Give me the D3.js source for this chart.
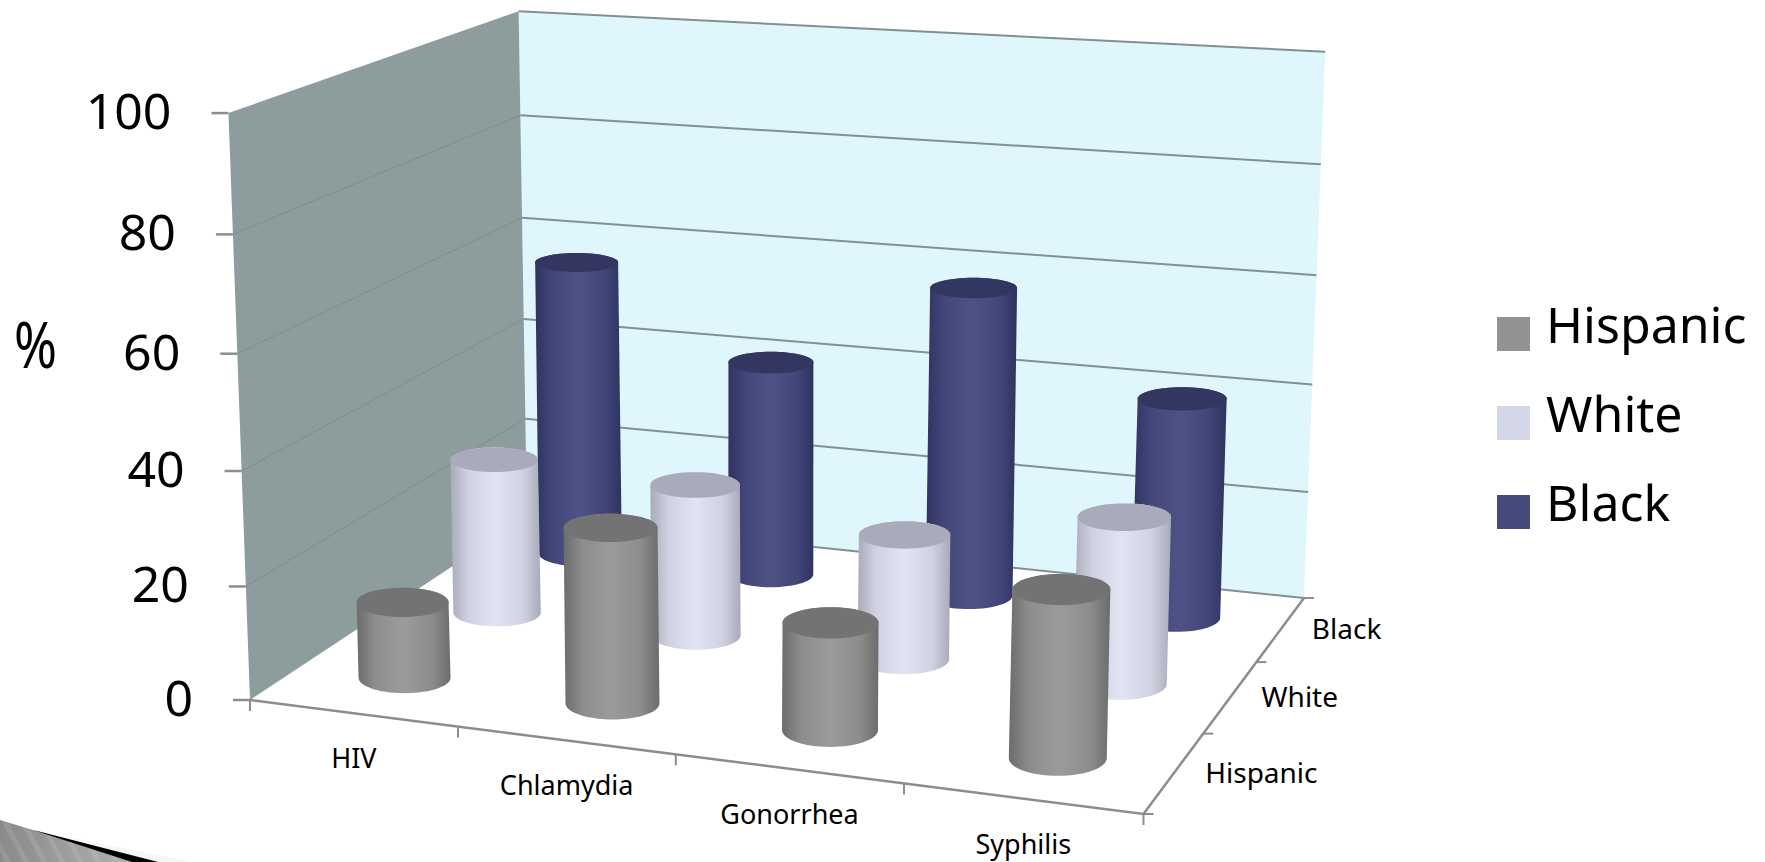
<!DOCTYPE html>
<html>
<head>
<meta charset="utf-8">
<script src="https://cdn.jsdelivr.net/npm/d3@7"></script>
<style>
  html, body { margin: 0; padding: 0; background: #fff; overflow: hidden; }
  text { font-family: "Noto Sans", sans-serif; fill: #000; }
</style>
</head>
<body>
<div id="chart"></div>
<script>
// chart values
const categories = ["HIV", "Chlamydia", "Gonorrhea", "Syphilis"];
const series = ["Hispanic", "White", "Black"];
const hispanic = [13.5, 30.6, 18.4, 28.2];
const white = [28.6, 27.6, 22.4, 29.4];
const black = [56.6, 40.6, 57.5, 40.4];
const valueTicks = [0, 20, 40, 60, 80, 100];

const width = 1765, height = 862;
const svg = d3.select("#chart").append("svg")
    .attr("width", width)
    .attr("height", height);
const defs = svg.append("defs");

// floor corners on screen, and where the upright edges converge
const floorFL = [250, 700], floorFR = [1143.5, 814], floorBR = [1304, 598], floorBL = [527, 517];
const vanish = [761, 14623];
const wallK = -0.04045;

// unit square -> floor quad
const H = (function () {
    const [x0, y0] = floorFL, [x1, y1] = floorFR, [x2, y2] = floorBR, [x3, y3] = floorBL;
    const dx1 = x1 - x2, dx2 = x3 - x2, sx = x0 - x1 + x2 - x3;
    const dy1 = y1 - y2, dy2 = y3 - y2, sy = y0 - y1 + y2 - y3;
    const den = dx1 * dy2 - dx2 * dy1;
    const g = (sx * dy2 - dx2 * sy) / den;
    const h = (dx1 * sy - sx * dy1) / den;
    return { a: x1 - x0 + g * x1, b: x3 - x0 + h * x3, c: x0,
             d: y1 - y0 + g * y1, e: y3 - y0 + h * y3, f: y0, g, h };
})();

const xScale = d3.scaleBand().domain(categories).range([0, 1]);
const zScale = d3.scaleBand().domain(series).range([0, 1]);
const yScale = d3.scaleLinear().domain([0, 100]).range([0, 1]);

// u along the front, v into the depth, t up
function project(u, v, t) {
    const w = H.g * u + H.h * v + 1 + wallK * t;
    return [
        (H.a * u + H.b * v + H.c + wallK * vanish[0] * t) / w,
        (H.d * u + H.e * v + H.f + wallK * vanish[1] * t) / w
    ];
}

const line = d3.line();
const closed = d3.line().curve(d3.curveLinearClosed);

// walls
svg.append("path")
    .attr("d", closed([project(0, 1, 0), project(1, 1, 0), project(1, 1, 1), project(0, 1, 1)]))
    .attr("fill", "#def6fc");
svg.append("path")
    .attr("d", closed([project(0, 0, 0), project(0, 1, 0), project(0, 1, 1), project(0, 0, 1)]))
    .attr("fill", "#8d9d9d");

// gridlines
valueTicks.forEach(tick => {
    const t = yScale(tick);
    svg.append("path")
        .attr("d", line([project(0, 1, t), project(1, 1, t)]))
        .attr("fill", "none").attr("stroke", "#84908f").attr("stroke-width", 2);
    if (tick > 0 && tick < 100) {
        svg.append("path")
            .attr("d", line([project(0, 0, t), project(0, 1, t)]))
            .attr("fill", "none").attr("stroke", "#7d8e8d").attr("stroke-width", 1);
    }
});

// axes on the floor
const axisColor = "#8c8c8c";
svg.append("path")
    .attr("d", line([project(0, 0, 0), project(1, 0, 0), project(1, 1, 0)]))
    .attr("fill", "none").attr("stroke", axisColor).attr("stroke-width", 2.5);

// value axis
valueTicks.forEach(tick => {
    const p = project(0, 0, yScale(tick));
    svg.append("line")
        .attr("x1", p[0] - 17).attr("x2", p[0]).attr("y1", p[1]).attr("y2", p[1])
        .attr("stroke", axisColor).attr("stroke-width", 2.5);
    svg.append("text")
        .attr("x", p[0] - 57).attr("y", p[1] + 16)
        .attr("text-anchor", "end")
        .attr("font-size", 50)
        .text(tick);
});

svg.append("text")
    .attr("x", 14).attr("y", 368)
    .attr("font-size", 64)
    .attr("textLength", 43)
    .attr("lengthAdjust", "spacingAndGlyphs")
    .text("%");

// category axis
d3.range(categories.length + 1).forEach(i => {
    const p = project(i / categories.length, 0, 0);
    svg.append("line")
        .attr("x1", p[0]).attr("x2", p[0]).attr("y1", p[1]).attr("y2", p[1] + 11)
        .attr("stroke", axisColor).attr("stroke-width", 2);
});
categories.forEach(c => {
    const p = project(xScale(c) + xScale.bandwidth() / 2, 0, 0);
    svg.append("text")
        .attr("x", p[0] + 1).attr("y", p[1] + 55)
        .attr("text-anchor", "middle")
        .attr("font-size", 27)
        .text(c);
});

// depth axis
d3.range(series.length + 1).forEach(i => {
    const p = project(1, i / series.length, 0);
    svg.append("line")
        .attr("x1", p[0]).attr("x2", p[0] + 10).attr("y1", p[1]).attr("y2", p[1])
        .attr("stroke", axisColor).attr("stroke-width", 2);
});
series.forEach(s => {
    const p = project(1, zScale(s) + zScale.bandwidth() / 2, 0);
    svg.append("text")
        .attr("x", p[0] + 31).attr("y", p[1] + 10)
        .attr("font-size", 28)
        .text(s);
});

// cylinders, back row first
const rows = [
    { name: "Black", values: black, edge: "#2f3360", side: "#42467a", mid: "#4e5284", cap: "#323660", swatch: "#474b7c" },
    { name: "White", values: white, edge: "#a9aab9", side: "#d0d2e2", mid: "#e2e4f4", cap: "#a9aaba", swatch: "#d3d6e6" },
    { name: "Hispanic", values: hispanic, edge: "#6c6c6c", side: "#8d8d8d", mid: "#9b9b9b", cap: "#737373", swatch: "#929292" }
];
const radiusV = 0.075;
const circle = d3.range(60).map(i => [Math.cos(i / 60 * 2 * Math.PI), Math.sin(i / 60 * 2 * Math.PI)]);

// level ellipse at a floor spot; width grows a little towards the right and the front
function ring(u0, v0, t) {
    const c = project(u0, v0, t);
    const rx = 46.6 + 4 * u0 - 6.75 * v0;
    const ry = (project(u0, v0 - radiusV, t)[1] - project(u0, v0 + radiusV, t)[1]) / 2;
    return circle.map(q => [c[0] + 1.5 + q[0] * rx, c[1] + q[1] * ry]);
}

rows.forEach(row => {
    const gradId = "grad-" + row.name;
    const grad = defs.append("linearGradient").attr("id", gradId);
    [["0%", row.edge], ["20%", row.side], ["50%", row.mid], ["80%", row.side], ["100%", row.edge]]
        .forEach(s => grad.append("stop").attr("offset", s[0]).attr("stop-color", s[1]));

    const v0 = zScale(row.name) + zScale.bandwidth() / 2;
    const bars = svg.append("g").attr("class", "row");
    categories.forEach((c, i) => {
        const u0 = xScale(c) + xScale.bandwidth() / 2;
        const t = yScale(row.values[i]);
        const base = ring(u0, v0, 0);
        const top = ring(u0, v0, t);
        bars.append("path")
            .attr("d", closed(d3.polygonHull(base.concat(top))))
            .attr("fill", `url(#${gradId})`);
        bars.append("path")
            .attr("d", closed(top))
            .attr("fill", row.cap);
    });
});

// legend
const legendY = d3.scaleBand().domain(series).range([317, 584]);
series.forEach(s => {
    const row = rows.find(r => r.name === s);
    svg.append("rect")
        .attr("x", 1497).attr("y", legendY(s)).attr("width", 33).attr("height", 34)
        .attr("fill", row.swatch);
    svg.append("text")
        .attr("x", 1546).attr("y", legendY(s) + 26)
        .attr("font-size", 50)
        .text(s);
});

// slide decoration, bottom left corner
const swoosh = defs.append("linearGradient").attr("id", "swoosh");
swoosh.append("stop").attr("offset", "0%").attr("stop-color", "#8a8a8a");
swoosh.append("stop").attr("offset", "100%").attr("stop-color", "#b8b8b8");
const hatch = defs.append("pattern").attr("id", "hatch")
    .attr("patternUnits", "userSpaceOnUse")
    .attr("width", 16).attr("height", 16)
    .attr("patternTransform", "rotate(-28)");
hatch.append("rect").attr("width", 5).attr("height", 16).attr("fill", "#fff").attr("opacity", 0.1);
svg.append("path")
    .attr("d", "M33,830L193,862L158,862Z")
    .attr("fill", "#f6f6f6");
svg.append("path")
    .attr("d", "M0,820L33,830L158,862L0,862Z")
    .attr("fill", "url(#swoosh)");
svg.append("path")
    .attr("d", "M0,820L33,830L158,862L0,862Z")
    .attr("fill", "url(#hatch)");
svg.append("path")
    .attr("d", "M33,830L158,862L132,862Z")
    .attr("fill", "#000");
</script>
</body>
</html>
